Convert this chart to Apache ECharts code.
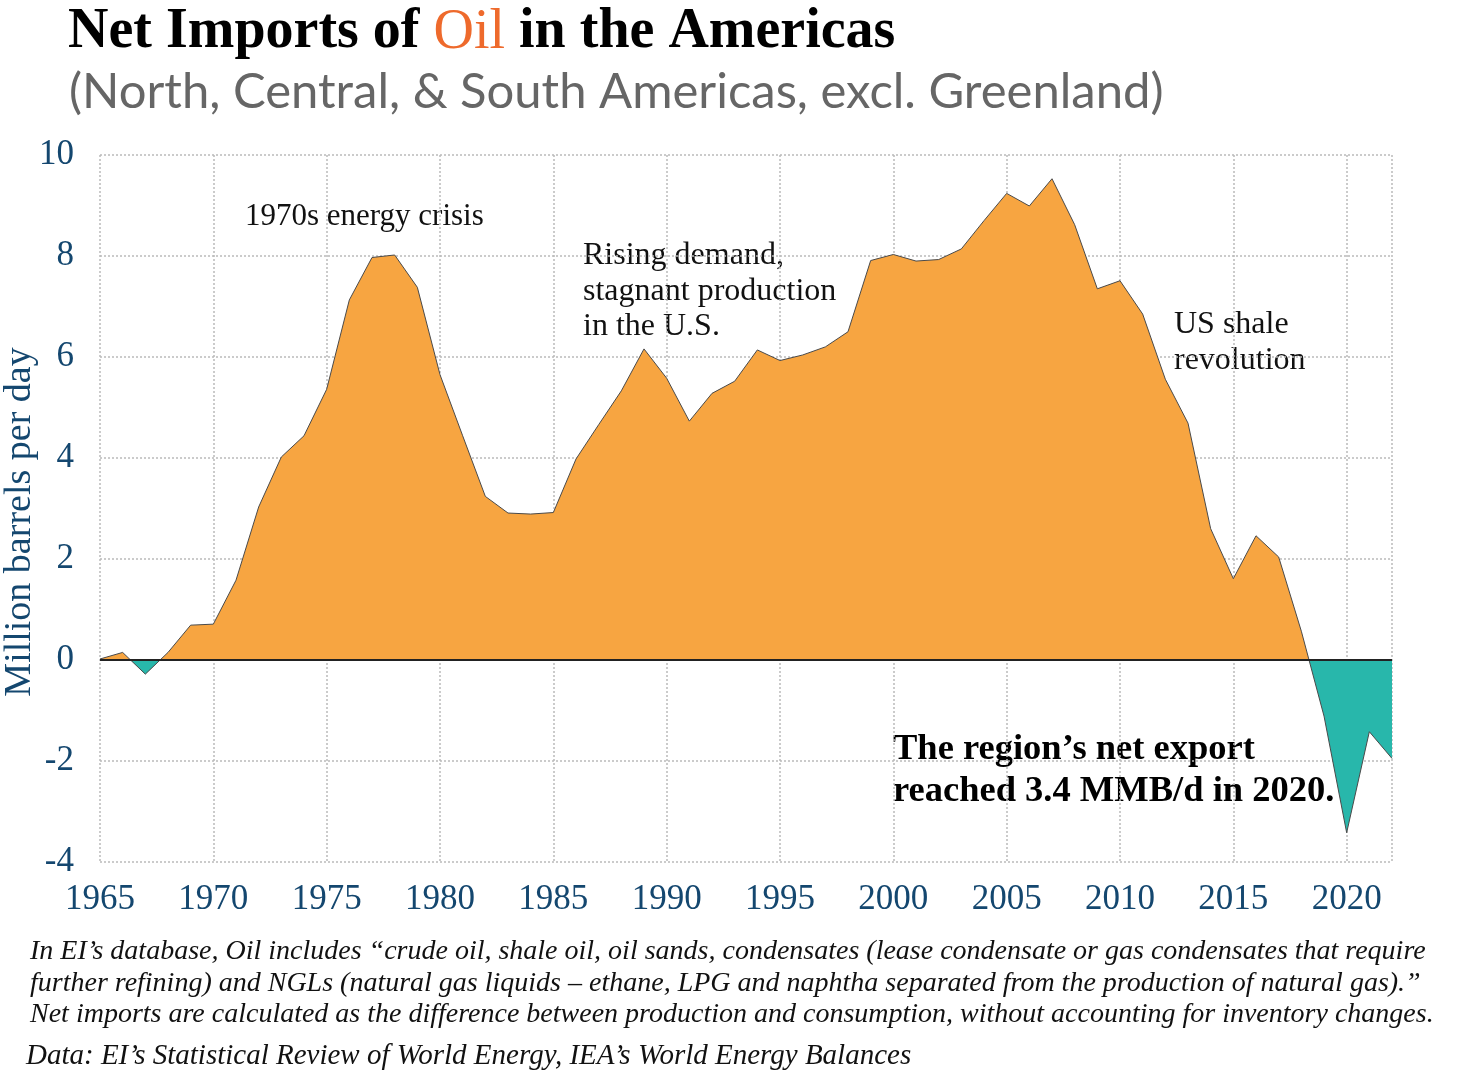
<!DOCTYPE html>
<html>
<head>
<meta charset="utf-8">
<script src="https://cdn.jsdelivr.net/npm/echarts@6/dist/echarts.min.js"></script>
<style>
  html, body { margin: 0; padding: 0; background: #fff; }
  #chart { width: 1475px; height: 1080px; }
</style>
</head>
<body>
<div id="chart"></div>
<script>
let years = [1965, 1966, 1967, 1968, 1969, 1970, 1971, 1972, 1973, 1974,
    1975, 1976, 1977, 1978, 1979, 1980, 1981, 1982, 1983, 1984,
    1985, 1986, 1987, 1988, 1989, 1990, 1991, 1992, 1993, 1994,
    1995, 1996, 1997, 1998, 1999, 2000, 2001, 2002, 2003, 2004,
    2005, 2006, 2007, 2008, 2009, 2010, 2011, 2012, 2013, 2014,
    2015, 2016, 2017, 2018, 2019, 2020, 2021, 2022];

// net imports, million barrels per day (negative = net export)
let netImports = [0.02, 0.15, -0.28, 0.15, 0.69, 0.71, 1.58, 3.03, 4.02, 4.44,
    5.36, 7.13, 7.97, 8.02, 7.38, 5.65, 4.44, 3.24, 2.91, 2.89,
    2.92, 3.98, 4.66, 5.33, 6.16, 5.58, 4.73, 5.28, 5.52, 6.14,
    5.93, 6.04, 6.20, 6.50, 7.91, 8.03, 7.90, 7.93, 8.14, 8.70,
    9.24, 8.99, 9.53, 8.62, 7.35, 7.51, 6.85, 5.56, 4.69, 2.60,
    1.61, 2.46, 2.04, 0.57, -1.11, -3.42, -1.42, -1.95];

let xTicks = [1965, 1970, 1975, 1980, 1985, 1990, 1995, 2000, 2005, 2010, 2015, 2020];

let notes = [
    'In EI\u2019s database, Oil includes \u201ccrude oil, shale oil, oil sands, condensates (lease condensate or gas condensates that require',
    'further refining) and NGLs (natural gas liquids \u2013 ethane, LPG and naphtha separated from the production of natural gas).\u201d',
    'Net imports are calculated as the difference between production and consumption, without accounting for inventory changes.'
];
let source = 'Data: EI\u2019s Statistical Review of World Energy, IEA\u2019s World Energy Balances';

const serif = '"Palatino Linotype", Palatino, "Book Antiqua", "Liberation Serif", serif';
const blue = '#14476f';
const orange = '#f7a541';
const teal = '#28b7ab';

let seriesData = years.map((y, i) => [y, netImports[i]]);

// area polygon spans from the highest value down to the lowest (or zero);
// split the fill colour exactly at zero
let hi = Math.max(0, Math.max.apply(null, netImports));
let lo = Math.min(0, Math.min.apply(null, netImports));
let zeroAt = hi / (hi - lo);
let areaFill = new echarts.graphic.LinearGradient(0, 0, 0, 1, [
    { offset: 0, color: orange },
    { offset: zeroAt, color: orange },
    { offset: zeroAt, color: teal },
    { offset: 1, color: teal }
]);

let noteStyle = {
    fontFamily: serif,
    fontStyle: 'italic',
    fontSize: 28,
    lineHeight: 31.5,
    fill: '#111'
};

let option = {
    animation: false,
    backgroundColor: '#fff',
    title: [{
        left: 63,
        top: -2,
        text: '{a|Net Imports of }{o|Oil}{a| in the Americas}',
        textStyle: {
            rich: {
                a: { fontFamily: serif, fontWeight: 'bold', fontSize: 56, lineHeight: 60, color: '#000' },
                o: { fontFamily: serif, fontWeight: 'normal', fontSize: 56, lineHeight: 60, color: '#ee6a2c' }
            }
        }
    }, {
        left: 64,
        top: 57,
        text: '(North, Central, & South Americas, excl. Greenland)',
        textStyle: {
            fontFamily: 'Lato, "Open Sans", sans-serif',
            fontWeight: 'normal',
            fontSize: 49,
            lineHeight: 60,
            color: '#666'
        }
    }],
    grid: {
        left: 100,
        right: 83,
        top: 155,
        bottom: 218,
        containLabel: false,
        outerBoundsMode: 'none'
    },
    xAxis: {
        type: 'value',
        min: 1965,
        max: 2022,
        interval: 5,
        axisLine: { show: false },
        axisTick: { show: false },
        axisLabel: {
            margin: 20,
            fontFamily: serif,
            fontSize: 35,
            color: blue,
            formatter: v => xTicks.indexOf(v) >= 0 ? String(v) : ''
        },
        splitLine: {
            show: true,
            showMinLine: true,
            showMaxLine: true,
            lineStyle: { color: '#bbb', type: [2, 2], width: 1.5 }
        }
    },
    yAxis: {
        type: 'value',
        min: -4,
        max: 10,
        interval: 2,
        axisLine: { show: false },
        axisTick: { show: false },
        axisLabel: {
            margin: 26,
            fontFamily: serif,
            fontSize: 35,
            color: blue
        },
        splitLine: {
            show: true,
            lineStyle: { color: '#bbb', type: [2, 2], width: 1.5 }
        }
    },
    series: [{
        name: 'Net imports',
        type: 'line',
        data: seriesData,
        showSymbol: false,
        lineStyle: { color: '#4a4a4a', width: 1 },
        areaStyle: { color: areaFill, opacity: 1 },
        markLine: {
            silent: true,
            symbol: ['none', 'none'],
            label: { show: false },
            lineStyle: { color: '#222', type: 'solid', width: 2 },
            data: [{ yAxis: 0 }]
        },
        z: 3
    }],
    graphic: [
        {
            type: 'text', x: 20, y: 522, rotation: Math.PI / 2,
            style: { text: 'Million barrels per day', font: '38px ' + serif, fill: blue, align: 'center', verticalAlign: 'middle' }
        },
        { type: 'text', left: 245, top: 199, style: { text: '1970s energy crisis', font: '31px ' + serif, lineHeight: 36, fill: '#111' } },
        { type: 'text', left: 583, top: 238, style: { text: 'Rising demand,\nstagnant production\nin the U.S.', font: '32px ' + serif, lineHeight: 35.5, fill: '#111' } },
        { type: 'text', left: 1174, top: 307, style: { text: 'US shale\nrevolution', font: '32px ' + serif, lineHeight: 36, fill: '#111' } },
        { type: 'text', left: 893, top: 729, style: { text: 'The region\u2019s net export\nreached 3.4 MMB/d in 2020.', font: 'bold 36.5px ' + serif, lineHeight: 42, fill: '#000' } },
        { type: 'text', left: 30, top: 936, style: Object.assign({ text: notes.join('\n') }, noteStyle) },
        { type: 'text', left: 26, top: 1041, style: Object.assign({}, noteStyle, { text: source, fontSize: 29 }) }
    ]
};

let chart = echarts.init(document.getElementById('chart'));
chart.setOption(option);
</script>
</body>
</html>
